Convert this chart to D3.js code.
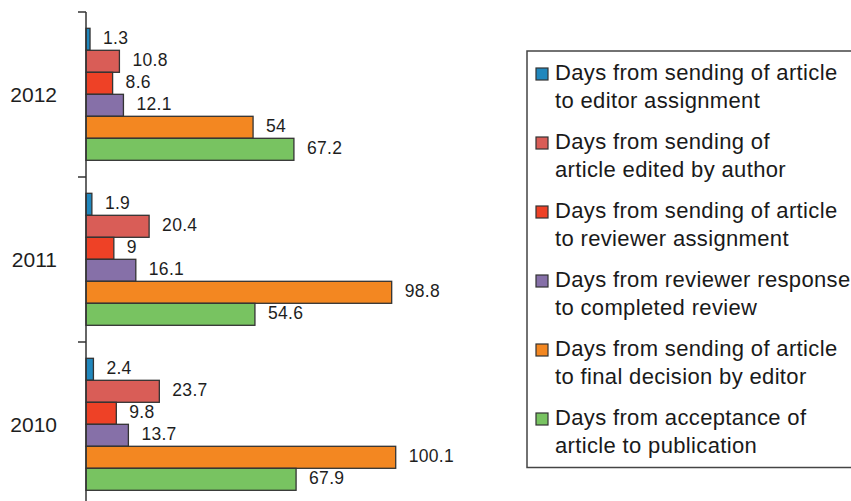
<!DOCTYPE html>
<html>
<head>
<meta charset="utf-8">
<script src="https://cdn.jsdelivr.net/npm/d3@7"></script>
<style>
  body { margin: 0; background: #fff; }
  svg { display: block; font-family: "Liberation Sans", Arial, sans-serif; }
</style>
</head>
<body>
<div id="chart"></div>
<script>
// data
var YEARS = ["2012", "2011", "2010"];
var SERIES = [
  ["Days from sending of article", "to editor assignment"],
  ["Days from sending of", "article edited by author"],
  ["Days from sending of article", "to reviewer assignment"],
  ["Days from reviewer response", "to completed review"],
  ["Days from sending of article", "to final decision by editor"],
  ["Days from acceptance of", "article to publication"]
];
// one array per series, in YEARS order
var EDITOR_ASSIGN   = [1.3, 1.9, 2.4];
var AUTHOR_EDIT     = [10.8, 20.4, 23.7];
var REVIEWER_ASSIGN = [8.6, 9, 9.8];
var REVIEW_DONE     = [12.1, 16.1, 13.7];
var FINAL_DECISION  = [54, 98.8, 100.1];
var PUBLICATION     = [67.2, 54.6, 67.9];
var VALUES = [EDITOR_ASSIGN, AUTHOR_EDIT, REVIEWER_ASSIGN, REVIEW_DONE, FINAL_DECISION, PUBLICATION];

var COLORS = ["#2087bd", "#d95d57", "#ee4126", "#8670a8", "#f38721", "#78c361"];

// sizes
var W = 851, H = 501;
var STROKE = "#333";

var svg = d3.select("#chart").append("svg")
  .attr("width", W)
  .attr("height", H);

// scales
var x = d3.scaleLinear().domain([0, 100]).range([86, 395.4]);
var y = d3.scaleBand().domain(YEARS).range([12, 507]).padding(0);
var ySub = d3.scaleBand().domain(d3.range(SERIES.length)).range([16.3, 148.3]).padding(0);

// flatten to rows
var rows = [];
YEARS.forEach(function(yr, i){
  VALUES.forEach(function(vals, s){
    rows.push({year: yr, s: s, v: vals[i]});
  });
});

// bars
svg.append("g").selectAll("rect")
  .data(rows)
  .enter().append("rect")
  .attr("x", x(0))
  .attr("y", function(d){ return y(d.year) + ySub(d.s); })
  .attr("width", function(d){ return x(d.v) - x(0); })
  .attr("height", ySub.bandwidth())
  .style("fill", function(d){ return COLORS[d.s]; })
  .style("stroke", STROKE)
  .style("stroke-width", 1.3);

// value labels
svg.append("g").selectAll("text")
  .data(rows)
  .enter().append("text")
  .attr("x", function(d){ return x(d.v) + 13; })
  .attr("y", function(d){ return y(d.year) + ySub(d.s) + ySub.bandwidth()/2 - 1; })
  .attr("dy", "0.35em")
  .attr("font-size", "17.5px")
  .attr("letter-spacing", "0.3px")
  .attr("fill", "#1e1e1e")
  .text(function(d){ return d.v; });

// axis line + ticks on band edges
var axis = svg.append("g");
axis.append("line")
  .attr("x1", x(0)).attr("x2", x(0))
  .attr("y1", y.range()[0]).attr("y2", y.range()[1])
  .style("stroke", STROKE).style("stroke-width", 1.5);
var edges = YEARS.map(function(yr){ return y(yr); }).concat([y.range()[1]]);
axis.selectAll(".tick")
  .data(edges)
  .enter().append("line")
  .attr("x1", x(0) - 8).attr("x2", x(0))
  .attr("y1", function(d){ return d; }).attr("y2", function(d){ return d; })
  .style("stroke", STROKE).style("stroke-width", 1.5);
axis.selectAll(".cat")
  .data(YEARS)
  .enter().append("text")
  .attr("x", 57)
  .attr("y", function(d){ return y(d) + y.bandwidth()/2 + 0.5; })
  .attr("dy", "0.35em")
  .attr("text-anchor", "end")
  .attr("font-size", "21px")
  .attr("fill", "#1e1e1e")
  .text(function(d){ return d; });

// legend
var legend = svg.append("g");
legend.append("rect")
  .attr("x", 527).attr("y", 51)
  .attr("width", 340).attr("height", 416.5)
  .style("fill", "none")
  .style("stroke", "#444")
  .style("stroke-width", 1.5);

var item = legend.selectAll(".item")
  .data(SERIES)
  .enter().append("g")
  .attr("transform", function(d, i){ return "translate(0," + (80 + i*69) + ")"; });

item.append("rect")
  .attr("x", 536).attr("y", -12)
  .attr("width", 12).attr("height", 12)
  .style("fill", function(d, i){ return COLORS[i]; })
  .style("stroke", STROKE)
  .style("stroke-width", 1.2);

item.append("text")
  .attr("x", 555)
  .attr("font-size", "22px")
  .attr("letter-spacing", "0.35px")
  .attr("fill", "#1a1a1a")
  .selectAll("tspan")
  .data(function(d){ return d; })
  .enter().append("tspan")
  .attr("x", 555)
  .attr("y", function(d, j){ return j*27.5; })
  .text(function(d){ return d; });
</script>
</body>
</html>
